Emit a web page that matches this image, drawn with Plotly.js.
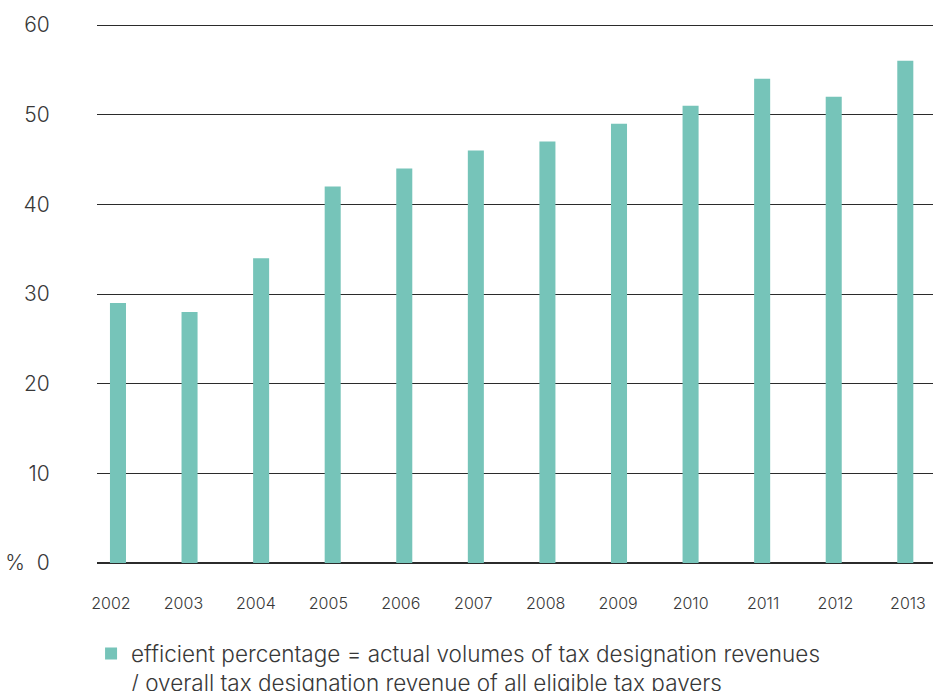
<!DOCTYPE html>
<html>
<head>
<meta charset="utf-8">
<script src="https://cdn.plot.ly/plotly-3.0.1.min.js"></script>
<style>html,body{margin:0;padding:0;background:#fff;}#chart{width:933px;height:691px;}</style>
</head>
<body>
<div id="chart"></div>
<script>
var years = ["2002","2003","2004","2005","2006","2007","2008","2009","2010","2011","2012","2013"];
var efficientPct = [29, 28, 34, 42, 44, 46, 47, 49, 51, 54, 52, 56];
var yTickVals = [0, 10, 20, 30, 40, 50, 60];
var yTickText = ["%  0", "10", "20", "30", "40", "50", "60"];
var seriesName = "efficient percentage = actual volumes of tax designation revenues<br>/ overall tax designation revenue of all eligible tax payers";

var FONT = "Inter, 'Noto Sans', sans-serif";
var TEXT = "#383838";

var bars = {
  type: "bar",
  x: years,
  y: efficientPct,
  name: seriesName,
  width: 0.224,
  marker: {color: "#76c4b9", line: {width: 0}},
  showlegend: true,
  hoverinfo: "x+y"
};

// invisible companion trace that carries the year labels on the label axis
var labelCarrier = {
  type: "scatter",
  mode: "markers",
  x: years,
  y: efficientPct,
  xaxis: "x2",
  marker: {opacity: 0, size: 1},
  showlegend: false,
  hoverinfo: "skip"
};

var layout = {
  width: 933,
  height: 691,
  margin: {l: 97, r: 0, t: 20, b: 128, pad: 0, autoexpand: false},
  paper_bgcolor: "#ffffff",
  plot_bgcolor: "#ffffff",
  font: {family: FONT, color: TEXT, weight: 300},
  showlegend: true,
  xaxis: {
    type: "category",
    range: [-0.293, 11.387],
    showgrid: false,
    zeroline: false,
    showline: false,
    showticklabels: false,
    ticks: "",
    fixedrange: true
  },
  xaxis2: {
    type: "category",
    overlaying: "x",
    side: "bottom",
    anchor: "y",
    range: [-0.193, 11.346],
    showgrid: false,
    zeroline: false,
    showline: false,
    ticks: "outside",
    ticklen: 26,
    tickangle: 0,
    tickcolor: "rgba(0,0,0,0)",
    tickfont: {family: FONT, size: 16, color: TEXT, weight: 300},
    fixedrange: true
  },
  yaxis: {
    range: [0, 60.558],
    tickvals: yTickVals,
    ticktext: yTickText,
    showgrid: true,
    gridcolor: "#2b2b2b",
    gridwidth: 1,
    zeroline: true,
    zerolinecolor: "#2b2b2b",
    zerolinewidth: 1.3,
    showline: false,
    ticks: "outside",
    ticklen: 42,
    tickcolor: "rgba(0,0,0,0)",
    tickfont: {family: FONT, size: 21, color: TEXT, weight: 300},
    fixedrange: true
  },
  legend: {
    orientation: "v",
    x: 0.0976,
    xref: "container",
    xanchor: "left",
    y: 0.085,
    yref: "container",
    yanchor: "top",
    valign: "top",
    font: {family: FONT, size: 22.5, color: TEXT, weight: 300},
    bgcolor: "rgba(0,0,0,0)",
    borderwidth: 0
  },
  bargap: 0.78
};

Plotly.newPlot("chart", [bars, labelCarrier], layout, {displayModeBar: false, staticPlot: true});
</script>
</body>
</html>
